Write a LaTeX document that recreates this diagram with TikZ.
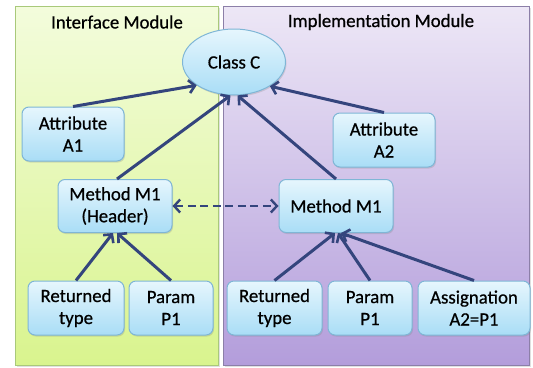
\documentclass[tikz,border=0pt]{standalone}
\usepackage{fontspec}
\setmainfont{Carlito}
\usetikzlibrary{arrows.meta,shapes.geometric,shadows}
\definecolor{arrowc}{HTML}{34457D}
\definecolor{boxtop}{HTML}{E6F6FD}
\definecolor{boxbot}{HTML}{A9DDF6}
\definecolor{boxline}{HTML}{7FB6D6}
\definecolor{lefttop}{HTML}{F3FCDC}
\definecolor{leftbot}{HTML}{D9F48E}
\definecolor{leftline}{HTML}{A9C97A}
\definecolor{righttop}{HTML}{EDE7F6}
\definecolor{rightbot}{HTML}{B39DDB}
\definecolor{rightline}{HTML}{8C7FA8}
\tikzset{
  every node/.style={font=\fontsize{18.8}{22}\selectfont\addfontfeature{FakeBold=0.6}, text=black, align=center},
  panel/.style={line width=1pt},
  item/.style={draw=boxline, line width=1pt, rounded corners=7pt, top color=boxtop, bottom color=boxbot,
    minimum height=54pt, inner sep=2pt,
    drop shadow={shadow xshift=1pt, shadow yshift=-1.5pt, opacity=0.25}},
  classnode/.style={ellipse, draw=boxline, line width=1pt, top color=boxtop, bottom color=boxbot,
    minimum width=103pt, minimum height=66pt, inner sep=0pt,
    drop shadow={shadow xshift=1pt, shadow yshift=-1.5pt, opacity=0.25}},
  link/.style={draw=arrowc, line width=3pt, -{Straight Barb[length=6pt,width=13pt,line width=2.6pt]}},
  dlink/.style={draw=arrowc, line width=2.6pt, dash pattern=on 8pt off 4.5pt,
    {Straight Barb[length=6pt,width=13pt,line width=2.4pt]}-{Straight Barb[length=6pt,width=13pt,line width=2.4pt]}}
}
\begin{document}
\begin{tikzpicture}[x=1pt,y=-1pt]
\useasboundingbox (0,0) rectangle (533,367);
% panels
\fill[black,opacity=0.12] (17,8) rectangle (220,367);
\fill[black,opacity=0.12] (225,8) rectangle (531,367);
\draw[panel, draw=leftline, top color=lefttop, bottom color=leftbot] (15,6) rectangle (218,365);
\draw[panel, draw=rightline, top color=righttop, bottom color=rightbot] (223,6) rectangle (529,365);
\node (t1) at (117,22) {Interface Module};
\node (t2) at (381,22) {Implementation Module};
% nodes
\node[classnode] (C) at (234,62) {Class C};
\node[item, minimum width=102pt] (A1) at (73,134) {Attribute\\A1};
\node[item, minimum width=102pt] (A2) at (384,140) {Attribute\\A2};
\node[item, minimum width=114pt, minimum height=53pt] (M1) at (115,206) {Method M1\\(Header)};
\node[item, minimum width=114pt, minimum height=53pt] (M2) at (336,206) {Method M1};
\node[item, minimum width=96pt] (R1) at (76,308) {Returned\\type};
\node[item, minimum width=84pt] (P1) at (171,308) {Param\\P1};
\node[item, minimum width=95pt] (R2) at (274.5,308) {Returned\\type};
\node[item, minimum width=84pt] (P2) at (370,308) {Param\\P1};
\node[item, minimum width=112pt] (AS) at (474,308) {Assignation\\A2=P1};
% connectors
\draw[link] (A1.north) -- (C.212);
\draw[link] ([xshift=2pt]M1.north) -- (C.264);
\draw[link] (M2.north) -- (C.276);
\draw[link] (A2.north) -- (C.326);
\draw[dlink] (M1.east) -- (M2.west);
\draw[link] (R1.north) -- ([xshift=-2pt]M1.south);
\draw[link] (P1.north) -- ([xshift=2pt]M1.south);
\draw[link] (R2.north) -- ([xshift=-1pt]M2.south);
\draw[link] (P2.north) -- ([xshift=2pt]M2.south);
\draw[link] (AS.north) -- ([xshift=5pt]M2.south);
\end{tikzpicture}
\end{document}
